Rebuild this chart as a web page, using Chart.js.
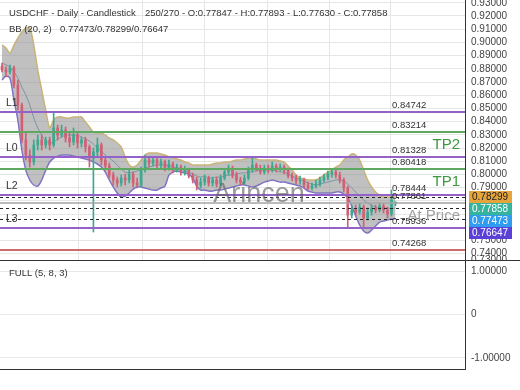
<!DOCTYPE html>
<html>
<head>
<meta charset="utf-8">
<script src="https://cdn.jsdelivr.net/npm/chart.js@4.4.0/dist/chart.umd.min.js"></script>
<style>
  html, body { margin: 0; padding: 0; background: #fff; }
  canvas { display: block; }
</style>
</head>
<body>
<canvas id="precio" width="520" height="260"></canvas>
<canvas id="oscilador" width="520" height="130"></canvas>
<script>
// Velas diarias USDCHF (barras 151 a 250 de 270)
const opens = [0.8821,0.8791,0.8776,0.8806,0.8677,0.8526,0.8261,0.8147,0.8094,0.8223,
  0.8261,0.8223,0.8261,0.8223,0.8352,0.8298,0.8336,0.8276,0.8245,0.8298,
  0.8238,0.8261,0.8208,0.8124,0.8170,0.8223,0.8109,0.8064,0.7995,0.7958,
  0.7935,0.7973,0.7958,0.8003,0.7935,0.7920,0.8033,0.8109,0.8086,0.8109,
  0.8071,0.8094,0.8048,0.8079,0.8033,0.8056,0.8018,0.8033,0.7988,0.7958,
  0.7920,0.7942,0.7973,0.7935,0.7958,0.7927,0.7973,0.8018,0.8048,0.7995,
  0.7958,0.7942,0.7973,0.8033,0.8071,0.8048,0.8018,0.8048,0.8033,0.8064,
  0.8041,0.8056,0.8033,0.7988,0.7973,0.7950,0.7958,0.7920,0.7897,0.7912,
  0.7927,0.7958,0.7980,0.8003,0.8018,0.7995,0.7958,0.7897,0.7692,0.7730,
  0.7715,0.7753,0.7670,0.7715,0.7745,0.7730,0.7761,0.7730,0.7700,0.77847];
const closes = [0.8791,0.8776,0.8806,0.8677,0.8526,0.8261,0.8147,0.8094,0.8223,0.8261,
  0.8223,0.8261,0.8223,0.8352,0.8298,0.8336,0.8276,0.8245,0.8298,0.8238,
  0.8261,0.8208,0.8124,0.8170,0.8223,0.8109,0.8064,0.7995,0.7958,0.7935,
  0.7973,0.7958,0.8003,0.7935,0.7920,0.8033,0.8109,0.8086,0.8109,0.8071,
  0.8094,0.8048,0.8079,0.8033,0.8056,0.8018,0.8033,0.7988,0.7958,0.7920,
  0.7942,0.7973,0.7935,0.7958,0.7927,0.7973,0.8018,0.8048,0.7995,0.7958,
  0.7942,0.7973,0.8033,0.8071,0.8048,0.8018,0.8048,0.8033,0.8064,0.8041,
  0.8056,0.8033,0.7988,0.7973,0.7950,0.7958,0.7920,0.7897,0.7912,0.7927,
  0.7958,0.7980,0.8003,0.8018,0.7995,0.7958,0.7897,0.7692,0.7730,0.7715,
  0.7753,0.7670,0.7715,0.7745,0.7730,0.7761,0.7730,0.7700,0.7806,0.77858];
const highs = [0.8844,0.8814,0.8829,0.8821,0.8715,0.8541,0.8321,0.8185,0.8261,0.8298,
  0.8298,0.8283,0.8283,0.8473,0.8374,0.8374,0.8359,0.8314,0.8352,0.8321,
  0.8283,0.8283,0.8223,0.8200,0.8276,0.8238,0.8132,0.8086,0.8018,0.7980,
  0.7995,0.8003,0.8033,0.8018,0.7973,0.8056,0.8147,0.8132,0.8132,0.8124,
  0.8117,0.8109,0.8109,0.8094,0.8079,0.8071,0.8064,0.8048,0.8011,0.7980,
  0.7973,0.7995,0.7988,0.7980,0.7980,0.7995,0.8041,0.8071,0.8064,0.8018,
  0.7980,0.7995,0.8056,0.8124,0.8086,0.8071,0.8071,0.8071,0.8094,0.8079,
  0.8079,0.8071,0.8048,0.8011,0.7995,0.7988,0.7973,0.7942,0.7935,0.7958,
  0.7980,0.8003,0.8026,0.8041,0.8033,0.8018,0.7973,0.7912,0.7768,0.7768,
  0.7783,0.7768,0.7745,0.7768,0.7768,0.7783,0.7776,0.7753,0.7882,0.77893];
const lows = [0.8776,0.8738,0.8761,0.8655,0.8488,0.8238,0.8109,0.8056,0.8071,0.8185,
  0.8185,0.8200,0.8185,0.8208,0.8261,0.8283,0.8245,0.8208,0.8223,0.8200,
  0.8208,0.8170,0.8056,0.7564,0.8132,0.8071,0.8033,0.7973,0.7920,0.7905,
  0.7912,0.7920,0.7935,0.7905,0.7897,0.7905,0.8018,0.8056,0.8064,0.8048,
  0.8048,0.8026,0.8033,0.8011,0.8018,0.7995,0.7995,0.7973,0.7935,0.7882,
  0.7897,0.7920,0.7912,0.7912,0.7905,0.7912,0.7958,0.7995,0.7973,0.7935,
  0.7920,0.7927,0.7958,0.8018,0.8026,0.8003,0.8003,0.8011,0.8018,0.8018,
  0.8026,0.8003,0.7973,0.7950,0.7927,0.7927,0.7897,0.7882,0.7882,0.7897,
  0.7912,0.7942,0.7958,0.7980,0.7973,0.7935,0.7867,0.7602,0.7670,0.7685,
  0.7700,0.7602,0.7655,0.7692,0.7708,0.7715,0.7708,0.7670,0.7685,0.77630];

// Bandas de Bollinger (20, 2)
const bbUpper = [0.8980,0.8958,0.8920,0.8980,0.9033,0.9079,0.9109,0.9109,0.8980,0.8791,
  0.8639,0.8488,0.8352,0.8412,0.8435,0.8435,0.8427,0.8427,0.8435,0.8435,
  0.8435,0.8397,0.8359,0.8321,0.8314,0.8314,0.8298,0.8276,0.8261,0.8238,
  0.8208,0.8132,0.8071,0.8056,0.8071,0.8109,0.8147,0.8162,0.8162,0.8162,
  0.8155,0.8147,0.8132,0.8124,0.8117,0.8109,0.8094,0.8086,0.8071,0.8071,
  0.8071,0.8071,0.8071,0.8079,0.8086,0.8086,0.8094,0.8094,0.8102,0.8109,
  0.8109,0.8117,0.8124,0.8124,0.8117,0.8109,0.8109,0.8109,0.8109,0.8109,
  0.8102,0.8094,0.8064,0.8033,0.7995,0.7973,0.7965,0.7958,0.7958,0.7958,
  0.7973,0.7995,0.8018,0.8033,0.8056,0.8071,0.8109,0.8132,0.8155,0.8147,
  0.8109,0.8033,0.7958,0.7905,0.7867,0.7844,0.7829,0.7829,0.7829,0.78299];
const bbMiddle = [0.8844,0.8829,0.8814,0.8776,0.8730,0.8662,0.8602,0.8526,0.8427,0.8352,
  0.8298,0.8253,0.8238,0.8245,0.8268,0.8283,0.8298,0.8298,0.8298,0.8298,
  0.8283,0.8268,0.8253,0.8230,0.8200,0.8177,0.8147,0.8124,0.8102,0.8071,
  0.8041,0.8018,0.8011,0.8018,0.8026,0.8033,0.8048,0.8056,0.8064,0.8071,
  0.8071,0.8071,0.8064,0.8056,0.8048,0.8041,0.8033,0.8018,0.8003,0.7988,
  0.7980,0.7988,0.7973,0.7973,0.7980,0.7980,0.7988,0.7995,0.7995,0.8003,
  0.8011,0.8011,0.8018,0.8018,0.8026,0.8033,0.8033,0.8033,0.8033,0.8026,
  0.8018,0.8018,0.8003,0.7988,0.7973,0.7965,0.7950,0.7935,0.7927,0.7920,
  0.7927,0.7935,0.7942,0.7950,0.7958,0.7958,0.7950,0.7927,0.7897,0.7867,
  0.7836,0.7806,0.7783,0.7768,0.7753,0.7745,0.7745,0.7745,0.7738,0.77473];
const bbLower = [0.8715,0.8745,0.8730,0.8564,0.8412,0.8185,0.8033,0.7958,0.7920,0.7912,
  0.7958,0.8033,0.8094,0.8124,0.8139,0.8147,0.8147,0.8147,0.8139,0.8132,
  0.8124,0.8117,0.8109,0.8094,0.8079,0.8056,0.8018,0.7958,0.7905,0.7859,
  0.7829,0.7836,0.7859,0.7889,0.7905,0.7905,0.7897,0.7889,0.7882,0.7882,
  0.7897,0.7912,0.7995,0.8018,0.8026,0.8018,0.8011,0.8003,0.7973,0.7912,
  0.7882,0.7882,0.7874,0.7874,0.7882,0.7882,0.7889,0.7897,0.7905,0.7912,
  0.7920,0.7920,0.7912,0.7905,0.7912,0.7927,0.7942,0.7950,0.7958,0.7950,
  0.7942,0.7942,0.7935,0.7927,0.7920,0.7912,0.7897,0.7874,0.7867,0.7859,
  0.7859,0.7859,0.7859,0.7859,0.7867,0.7867,0.7852,0.7821,0.7761,0.7685,
  0.7617,0.7571,0.7556,0.7579,0.7609,0.7639,0.7647,0.7655,0.7662,0.76647];

// Niveles horizontales
const levelValues = [0.84742, 0.83214, 0.81328, 0.80418, 0.78444, 0.77861, 0.75936, 0.74268];
const levelNames  = ['L1', '', 'L0', '', 'L2', '', 'L3', ''];
const levelColors = ['#9262c9', '#5fa862', '#9262c9', '#5fa862', '#9262c9', '#a4a4a4', '#9262c9', '#cf6b6b'];

// Marcas de los ejes
const priceTicks = [0.7352, 0.74, 0.75, 0.76, 0.77, 0.78, 0.79, 0.80, 0.81, 0.82, 0.83,
  0.84, 0.85, 0.86, 0.87, 0.88, 0.89, 0.90, 0.91, 0.92, 0.93];
const oscTicks = [-1, 0, 1];
const gridColumns = [80, 159, 237, 315, 392];
const firstBar = 151, totalBars = 270, slots = 117;
const barLabels = Array.from({length: slots}, (_, i) => firstBar + i);

const FONT = '"Liberation Sans", Arial, sans-serif';
Chart.defaults.font.family = FONT;
const last = closes.length - 1;
const upColor = '#3aa990', downColor = '#d25f74';
const candleColors = closes.map((c, i) => c >= opens[i] ? upColor : downColor);

function fitRight(s) { s.width = 55; s.paddingTop = 0; s.paddingBottom = 0; }

const overlay = {
  id: 'overlay',
  afterDatasetsDraw(chart) {
    const {ctx, chartArea: a, scales: {y}} = chart;
    const px = v => y.getPixelForValue(v);
    ctx.save();
    ctx.beginPath(); ctx.rect(a.left, a.top, a.width, a.height); ctx.clip();
    // líneas punteadas de las bandas actuales
    ctx.setLineDash([3, 3]); ctx.strokeStyle = '#222'; ctx.lineWidth = 1;
    [bbUpper[last], bbMiddle[last], bbLower[last]].forEach(v => {
      const py = Math.round(px(v)) + 0.5;
      ctx.beginPath(); ctx.moveTo(a.left, py); ctx.lineTo(a.right, py); ctx.stroke();
    });
    ctx.setLineDash([]);
    ctx.textBaseline = 'middle'; ctx.textAlign = 'left';
    levelValues.forEach((v, i) => {
      const py = Math.round(px(v));
      ctx.strokeStyle = levelColors[i];
      ctx.lineWidth = i === 5 ? 1.5 : 2;
      ctx.beginPath(); ctx.moveTo(a.left, py); ctx.lineTo(a.right, py); ctx.stroke();
      ctx.fillStyle = '#333'; ctx.font = '9.5px ' + FONT;
      ctx.fillText(v.toFixed(5), a.right - 73, py - 7);
      if (levelNames[i]) {
        ctx.font = '10.5px ' + FONT;
        ctx.fillText(levelNames[i], a.left + 6, py - 9);
      }
    });
    ctx.font = '15px ' + FONT; ctx.textAlign = 'right';
    ctx.fillStyle = '#3c9a3c';
    ctx.fillText('TP2', a.right - 5, (px(levelValues[1]) + px(levelValues[2])) / 2);
    ctx.fillText('TP1', a.right - 5, (px(levelValues[3]) + px(levelValues[4])) / 2);
    ctx.fillStyle = '#a2a2a2';
    ctx.fillText('At Price', a.right - 5, (px(levelValues[5]) + px(levelValues[6])) / 2);
    ctx.fillStyle = '#cc3b3b'; ctx.textAlign = 'left';
    ctx.fillText('SL', a.right - 22, px(levelValues[7]) + 17);
    ctx.font = '27px ' + FONT; ctx.textAlign = 'center';
    ctx.fillStyle = 'rgba(100,100,100,0.65)';
    ctx.fillText('Arincen', 259, 195);
    ctx.restore();
  },
  afterDraw(chart) {
    const {ctx, chartArea: a, scales: {y}} = chart;
    ctx.save();
    ctx.fillStyle = '#333'; ctx.font = '9.5px ' + FONT;
    ctx.textBaseline = 'middle'; ctx.textAlign = 'left';
    ctx.fillText('USDCHF - Daily - Candlestick', 9, 13);
    ctx.fillText((firstBar + last) + '/' + totalBars + ' - O:' + opens[last].toFixed(5) +
      ' - H:' + highs[last].toFixed(5) + ' - L:' + lows[last].toFixed(5) +
      ' - C:' + closes[last].toFixed(5), 145, 13);
    ctx.fillText('BB (20, 2)', 9, 29);
    ctx.fillText(bbMiddle[last].toFixed(5) + '/' + bbUpper[last].toFixed(5) + '/' +
      bbLower[last].toFixed(5), 60, 29);
    // etiquetas de precio en el eje
    const tags = [
      {v: bbUpper[last], bg: '#e6a53c', fg: '#222'},
      {v: closes[last], bg: '#35b39c', fg: '#fff'},
      {v: bbMiddle[last], bg: '#2f9cf0', fg: '#fff'},
      {v: bbLower[last], bg: '#5b40d8', fg: '#fff'}
    ];
    let prev = -Infinity;
    ctx.font = '10px ' + FONT;
    tags.forEach(t => {
      const cy = Math.max(y.getPixelForValue(t.v), prev + 12);
      prev = cy;
      ctx.fillStyle = t.bg;
      ctx.fillRect(a.right + 4, Math.round(cy - 6), 43, 12);
      ctx.fillStyle = t.fg;
      ctx.fillText(t.v.toFixed(5), a.right + 7, cy + 0.5);
    });
    ctx.restore();
  }
};

new Chart(document.getElementById('precio'), {
  type: 'bar',
  data: {
    labels: barLabels,
    datasets: [
      { label: 'wicks', data: lows.map((l, i) => [l, highs[i]]), backgroundColor: candleColors,
        barThickness: 1, grouped: false, order: 1 },
      { label: 'bodies', data: opens.map((o, i) => [o, closes[i]]), backgroundColor: candleColors,
        barThickness: 2, minBarLength: 1, grouped: false, order: 0 },
      { type: 'line', label: 'BB upper', data: bbUpper, borderColor: '#c9b478', borderWidth: 1.5,
        pointRadius: 0, tension: 0.3, fill: '+2', backgroundColor: 'rgba(140,140,140,0.55)', order: 2 },
      { type: 'line', label: 'BB middle', data: bbMiddle, borderColor: '#6f9cc4', borderWidth: 1,
        pointRadius: 0, tension: 0.3, fill: false, order: 2 },
      { type: 'line', label: 'BB lower', data: bbLower, borderColor: '#7b6ad6', borderWidth: 1.5,
        pointRadius: 0, tension: 0.3, fill: false, order: 2 }
    ]
  },
  options: {
    responsive: false,
    animation: false,
    events: [],
    layout: { padding: 0 },
    plugins: { legend: { display: false }, tooltip: { enabled: false } },
    scales: {
      x: { display: false },
      xg: {
        type: 'linear', position: 'bottom', min: 0, max: 465,
        afterBuildTicks: s => { s.ticks = gridColumns.map(v => ({value: v})); },
        afterFit: s => { s.height = 0; s.paddingLeft = 0; s.paddingRight = 0; },
        ticks: { display: false },
        grid: { color: '#e6e6e6', drawTicks: false },
        border: { display: false }
      },
      y: {
        position: 'right', min: 0.7352, max: 0.9321,
        afterBuildTicks: s => { s.ticks = priceTicks.map(v => ({value: v})); },
        afterFit: fitRight,
        ticks: { color: '#444', font: { size: 10 }, padding: 6, autoSkip: false,
          callback: v => (Math.floor(v * 100 + 1e-6) / 100).toFixed(5) },
        grid: { color: '#e6e6e6', drawTicks: false },
        border: { color: '#333', width: 1 }
      }
    }
  },
  plugins: [overlay]
});

const marco = {
  id: 'marco',
  afterDraw(chart) {
    const {ctx, chartArea: a} = chart;
    ctx.save();
    ctx.strokeStyle = '#333'; ctx.lineWidth = 1;
    ctx.beginPath();
    ctx.moveTo(0, 0.5); ctx.lineTo(chart.width, 0.5);
    ctx.moveTo(0, Math.round(a.bottom) + 0.5); ctx.lineTo(a.right, Math.round(a.bottom) + 0.5);
    ctx.stroke();
    ctx.fillStyle = '#333'; ctx.font = '9.5px ' + FONT;
    ctx.textBaseline = 'middle'; ctx.textAlign = 'left';
    ctx.fillText('FULL (5, 8, 3)', 9, 13);
    ctx.restore();
  }
};

new Chart(document.getElementById('oscilador'), {
  type: 'line',
  data: { labels: barLabels, datasets: [] },
  options: {
    responsive: false,
    animation: false,
    events: [],
    layout: { padding: { top: 1, bottom: 21 } },
    plugins: { legend: { display: false }, tooltip: { enabled: false } },
    scales: {
      x: { display: false },
      y: {
        position: 'right', min: -1.253, max: 1.23,
        afterBuildTicks: s => { s.ticks = oscTicks.map(v => ({value: v})); },
        afterFit: fitRight,
        ticks: { color: '#444', font: { size: 10 }, padding: 6, autoSkip: false,
          callback: v => v === 0 ? '0' : v.toFixed(5) },
        grid: { color: '#e8e8e8', drawTicks: false },
        border: { color: '#333', width: 1 }
      }
    }
  },
  plugins: [marco]
});
</script>
</body>
</html>
